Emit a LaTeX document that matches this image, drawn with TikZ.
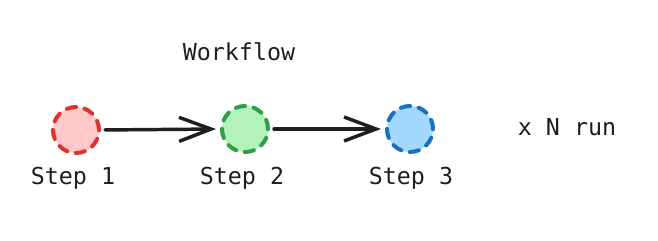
\documentclass[tikz,border=0pt]{standalone}
\usepackage{fontspec}
\setmonofont{DejaVu Sans Mono}
\usetikzlibrary{arrows.meta,positioning}
\definecolor{redfill}{HTML}{FFC9C9}
\definecolor{redline}{HTML}{E03131}
\definecolor{greenfill}{HTML}{B2F2BB}
\definecolor{greenline}{HTML}{2F9E44}
\definecolor{bluefill}{HTML}{A5D8FF}
\definecolor{blueline}{HTML}{1971C2}
\definecolor{ink}{HTML}{1E1E1E}

\begin{document}
\begin{tikzpicture}[x=0.75pt, y=0.75pt,
    stepdot/.style={circle, minimum size=34.5pt, inner sep=0pt, line width=3pt,
                    dash pattern=on 7pt off 6.5pt, line cap=round},
    lbl/.style={anchor=base, text=ink, font=\ttfamily\fontsize{17.5}{20}\selectfont},
    flow/.style={line width=2.6pt, ink, line cap=round,
                 -{Straight Barb[length=24pt, width=18pt, line width=2.6pt]}, shorten >=3pt, shorten <=3pt}]
\useasboundingbox (0,0) rectangle (658,241);
\node[lbl] (title) at (239,180) {Workflow};
\foreach \n/\x/\y/\c in {1/76/111/red, 2/245/112/green, 3/410/112/blue}
    \node[stepdot, draw=\c line, fill=\c fill] (s\n) at (\x,\y) {};
\foreach \n/\x in {1/73, 2/242, 3/411}
    \node[lbl] (l\n) at (\x,56) {Step \n};
\node[lbl] (runs) at (567,105) {x N run};
\draw[flow] (s1.east) -- (s2.west);
\draw[flow] (s2.east) -- (s3.west);
\end{tikzpicture}
\end{document}
